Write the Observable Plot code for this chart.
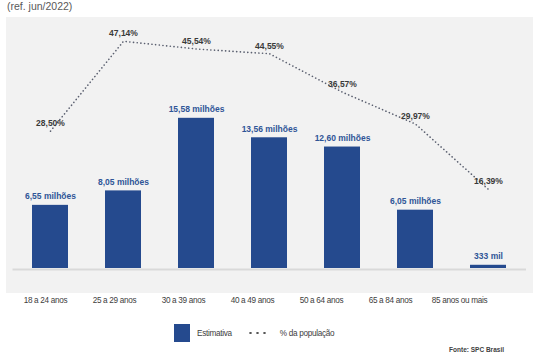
<!DOCTYPE html>
<html>
<head>
<meta charset="utf-8">
<script src="https://cdn.jsdelivr.net/npm/d3@7"></script>
<script src="https://cdn.jsdelivr.net/npm/@observablehq/plot@0.6"></script>
<style>
  html, body { margin: 0; padding: 0; background: #fff; }
  #wrap { position: relative; width: 553px; height: 360px; overflow: hidden; font-family: "Liberation Sans", Arial, sans-serif; }
  #title { position: absolute; left: 7px; top: 0px; font-size: 10.5px; line-height: 12px; color: #595959; }
  #panel { position: absolute; left: 6px; top: 17px; }
  #axis { position: absolute; left: 0; top: 293px; }
  #legend { position: absolute; left: 174px; top: 324px; height: 18px; display: flex; align-items: center; font-size: 8.2px; letter-spacing: -0.3px; color: #404040; }
  #legend .sw { width: 16px; height: 18px; background: #254a8e; margin-right: 7px; }
  #legend .dots { width: 21px; height: 2px; margin-left: 15px; margin-right: 12px; background-image: radial-gradient(circle, #555 1px, transparent 1.3px); background-size: 7px 2px; }
  #caption { position: absolute; right: 49px; top: 346px; font-size: 6.5px; font-weight: bold; color: #404040; }
</style>
</head>
<body>
<div id="wrap">
  <div id="title">(ref. jun/2022)</div>
  <div id="panel"></div>
  <div id="axis"></div>
  <div id="legend"><div class="sw"></div><span>Estimativa</span><div class="dots"></div><span>% da população</span></div>
  <div id="caption">Fonte: SPC Brasil</div>
</div>
<script>
const categories = ["18 a 24 anos", "25 a 29 anos", "30 a 39 anos", "40 a 49 anos", "50 a 64 anos", "65 a 84 anos", "85 anos ou mais"];
const estimativa = [6.55, 8.05, 15.58, 13.56, 12.60, 6.05, 0.333];
const estimativaLabels = ["6,55 milhões", "8,05 milhões", "15,58 milhões", "13,56 milhões", "12,60 milhões", "6,05 milhões", "333 mil"];
const populacao = [28.50, 47.14, 45.54, 44.55, 36.57, 29.97, 16.39];

const data = categories.map((c, i) => ({
  cat: c,
  est: estimativa[i],
  estLabel: estimativaLabels[i],
  pct: populacao[i],
  pctScaled: populacao[i] / 2,  // secondary axis: 0–50% shares the 0–25 million range
  pctLabel: populacao[i].toFixed(2).replace(".", ",") + "%"
}));

const chart = Plot.plot({
  width: 527,
  height: 276,
  marginLeft: 7.5,
  marginRight: 8.5,
  marginTop: 10,
  marginBottom: 25,
  style: { background: "#f2f2f2", fontFamily: "Liberation Sans, Arial, sans-serif", overflow: "visible" },
  x: { domain: categories, paddingInner: 0.507, paddingOuter: 0.2535, axis: null },
  y: { domain: [0, 25], axis: null },
  marks: [
    Plot.ruleY([0], { stroke: "#d9d9d9", strokeWidth: 2, insetLeft: -1, insetRight: -1.5, dy: 1 }),
    Plot.barY(data, { x: "cat", y: "est", fill: "#254a8e" }),
    Plot.text(data, { x: "cat", y: "est", text: "estLabel", dy: -9, fill: "#2f5597", fontWeight: "bold", fontSize: 8.5 }),
    Plot.line(data, { x: "cat", y: "pctScaled", stroke: "#5b6070", strokeWidth: 1.6, strokeDasharray: "0.1,3.6", strokeLinecap: "round" }),
    Plot.text(data, { x: "cat", y: "pctScaled", text: "pctLabel", dy: -8, fill: "#3a3a3a", fontWeight: "bold", fontSize: 8.5 })
  ]
});
document.getElementById("panel").appendChild(chart);

const axis = Plot.plot({
  width: 553,
  height: 20,
  marginTop: 0,
  marginBottom: 0,
  marginLeft: 0,
  marginRight: 0,
  style: { background: "transparent", fontFamily: "Liberation Sans, Arial, sans-serif", letterSpacing: "-0.3px" },
  x: { domain: categories, range: [8, 496.5] },
  y: { axis: null },
  marks: [
    Plot.axisX({ anchor: "top", tickSize: 0, tickPadding: 0, dy: 9, fontSize: 8.2, color: "#404040", fill: "#404040" })
  ]
});
document.getElementById("axis").appendChild(axis);
</script>
</body>
</html>
